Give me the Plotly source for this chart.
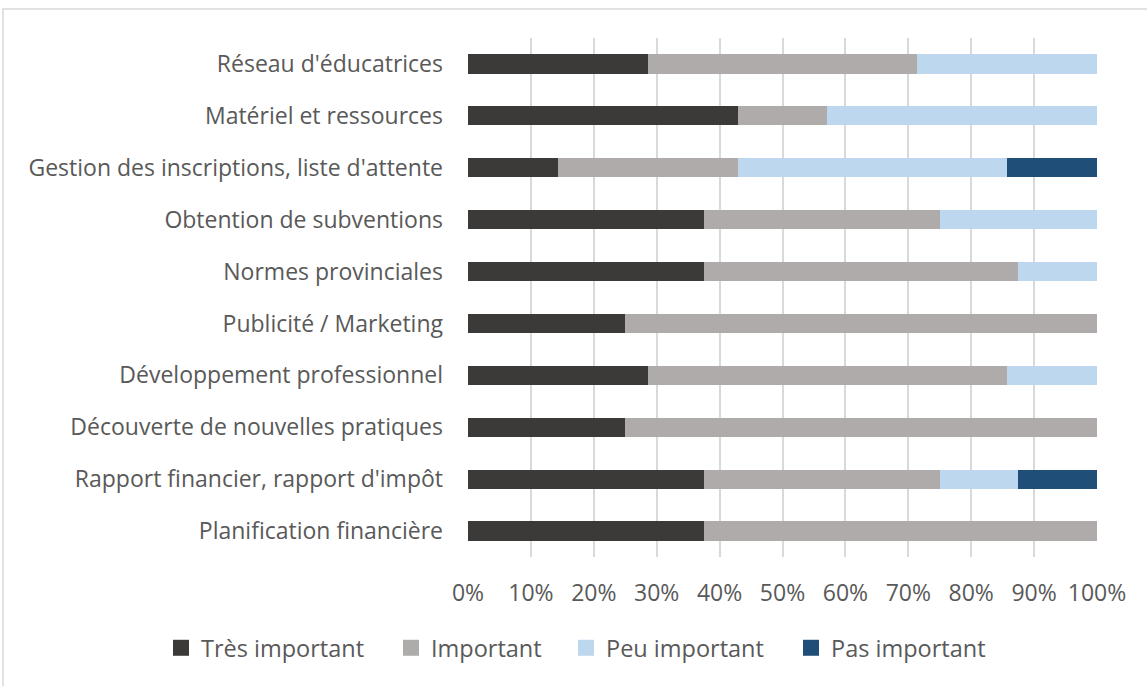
import plotly.graph_objects as go

categories = [
    "Réseau d'éducatrices",
    "Matériel et ressources",
    "Gestion des inscriptions, liste d'attente",
    "Obtention de subventions",
    "Normes provinciales",
    "Publicité / Marketing",
    "Développement professionnel",
    "Découverte de nouvelles pratiques",
    "Rapport financier, rapport d'impôt",
    "Planification financière",
]
tres_important = [28.57, 42.86, 14.29, 37.5, 37.5, 25.0, 28.57, 25.0, 37.5, 37.5]
important = [42.86, 14.28, 28.57, 37.5, 50.0, 75.0, 57.14, 75.0, 37.5, 62.5]
peu_important = [28.57, 42.86, 42.86, 25.0, 12.5, 0.0, 14.29, 0.0, 12.5, 0.0]
pas_important = [0.0, 0.0, 14.28, 0.0, 0.0, 0.0, 0.0, 0.0, 12.5, 0.0]

series = [
    ("Très important", tres_important, "#3b3a39"),
    ("Important", important, "#afabaa"),
    ("Peu important", peu_important, "#bdd7ee"),
    ("Pas important", pas_important, "#1f4e79"),
]
tick_vals = [0, 10, 20, 30, 40, 50, 60, 70, 80, 90, 100]
tick_text = ["0%", "10%", "20%", "30%", "40%", "50%", "60%", "70%", "80%", "90%", "100%"]

# legend text start pixels in the reference
legend_text_x = [201, 431, 606, 831]

fig = go.Figure()
legend_names = ["legend", "legend2", "legend3", "legend4"]
for (name, vals, color), lg in zip(series, legend_names):
    fig.add_trace(go.Bar(
        y=categories, x=vals, name=name, orientation="h",
        marker=dict(color=color, line=dict(width=0)),
        showlegend=False, legendgroup=name,
    ))
    fig.add_trace(go.Scatter(
        x=[None], y=[None], mode="markers", name=name, legend=lg,
        legendgroup=name,
        marker=dict(symbol="square", size=16, color=color),
        showlegend=True,
    ))

font_family = "Open Sans"
plot_left, plot_w, plot_bottom, plot_h = 468, 629, 557, 519
legend_cfg = {}
for lg, tx in zip(legend_names, legend_text_x):
    legend_cfg[lg] = dict(
        orientation="h", xref="paper", x=(tx - 40 - plot_left) / plot_w,
        xanchor="left", yref="paper", y=(plot_bottom - 648) / plot_h,
        yanchor="middle", font=dict(size=23.5, color="#595959"),
        itemwidth=30, itemsizing="trace", bgcolor="rgba(0,0,0,0)",
    )

fig.update_layout(
    barmode="stack",
    bargap=0.63,
    width=1147, height=686,
    margin=dict(l=468, r=50, t=38, b=129),
    paper_bgcolor="white",
    plot_bgcolor="white",
    font=dict(family=font_family, size=23, color="#595959"),
    showlegend=True,
    **legend_cfg,
    xaxis=dict(
        range=[0, 100], tickvals=tick_vals, ticktext=tick_text,
        showgrid=True, gridcolor="#d9d9d9", gridwidth=1.5,
        zeroline=False, showline=False, ticks="",
        ticklabelstandoff=20, fixedrange=True,
    ),
    yaxis=dict(
        autorange="reversed", showgrid=False, zeroline=False,
        showline=False, ticks="", ticklabelstandoff=24,
    ),
    shapes=[dict(
        type="rect", xref="paper", yref="paper",
        x0=-465 / 629, x1=1.2, y0=-0.5, y1=1 + 29 / 519,
        line=dict(color="#d9d9d9", width=1.5), fillcolor="rgba(0,0,0,0)",
        layer="below",
    )],
)

fig.write_html("out.html")
